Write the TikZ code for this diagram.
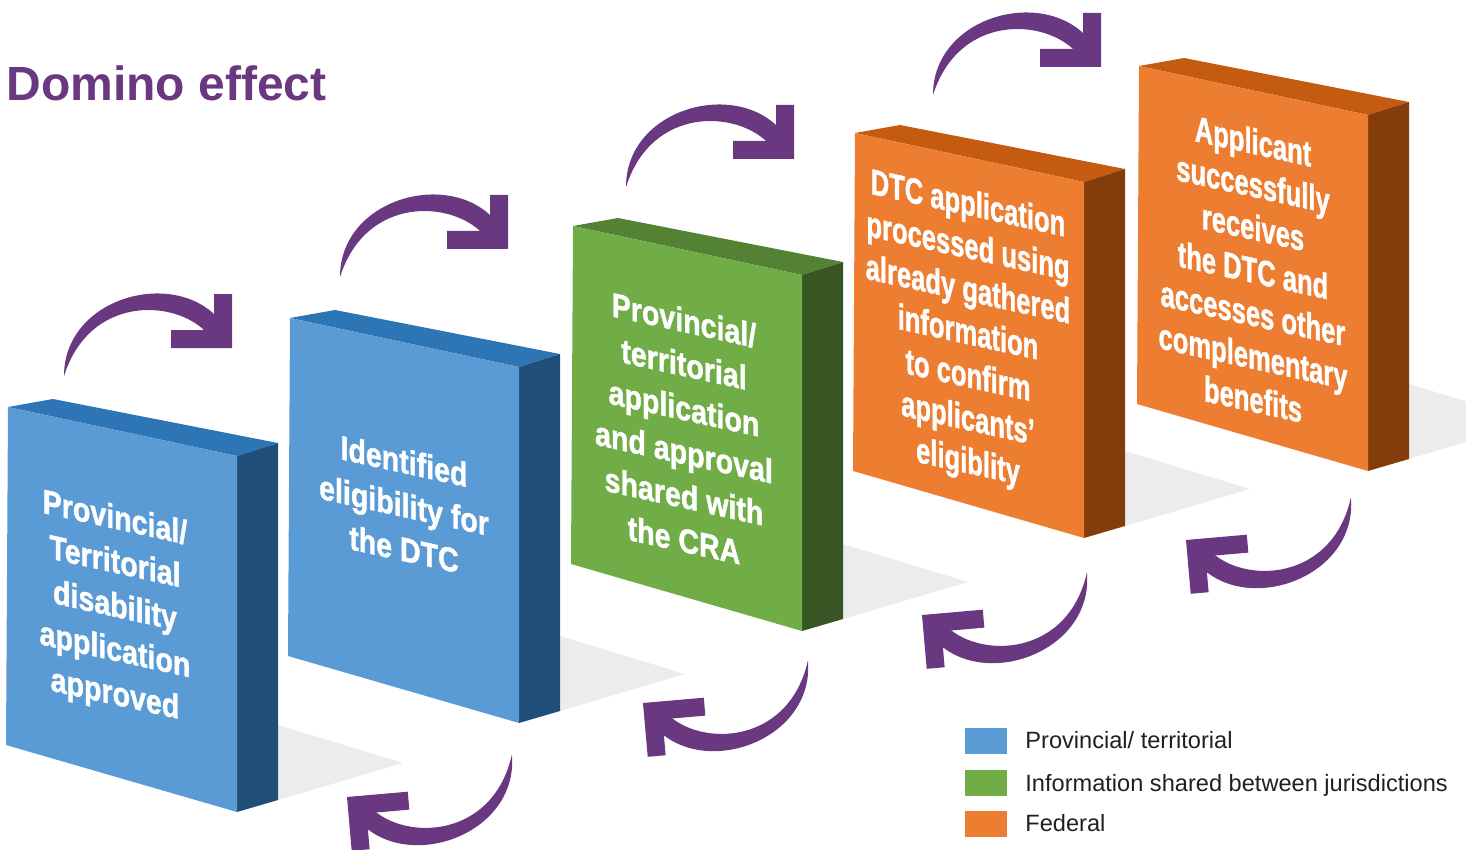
\documentclass[tikz,border=0pt]{standalone}
\usepackage{fontspec}
\setmainfont{Liberation Sans}
\newfontfamily\heavyfont{Liberation Sans}[BoldFeatures={FakeBold=1.4}]

\definecolor{bluefront}{HTML}{5B9BD5}
\definecolor{bluetop}{HTML}{2E75B6}
\definecolor{blueside}{HTML}{1F4E79}
\definecolor{greenfront}{HTML}{70AD47}
\definecolor{greentop}{HTML}{548235}
\definecolor{greenside}{HTML}{375623}
\definecolor{orangefront}{HTML}{ED7D31}
\definecolor{orangetop}{HTML}{C55A11}
\definecolor{orangeside}{HTML}{843C0C}
\definecolor{curlpurple}{HTML}{6A3880}
\definecolor{floorgray}{HTML}{ECECEC}
\definecolor{legendtext}{HTML}{231F20}

% one domino: #1 shift, #2 front, #3 top, #4 side colour
\newcommand\dominoblock[4]{%
  \begin{scope}[shift={#1}]
    \fill[#3] (8,407) -- (53,399) -- (278,443) -- (237,456) -- cycle;
    \fill[#4] (237,456) -- (278,443) -- (278,800) -- (237,812) -- cycle;
    \fill[#2] (8,407) -- (237,456) -- (237,812) -- (6,745) -- cycle;
  \end{scope}}
% floor shadow behind a domino
\newcommand\dominoshadow[1]{%
  \fill[floorgray, shift={#1}] (278,725) -- (403,763) -- (278,800) -- cycle;}

\tikzset{
  curl/.pic={
    \fill[curlpurple] (0,0) -- (0,-54) -- (-18,-54) -- (-18,-18) -- (-61,-18) -- (-61,0) -- cycle;
    \fill[curlpurple] (-168,28) .. controls (-168,-50) and (-60,-80) .. (-14,-30)
      -- (-8,-8) -- (-24,-14) .. controls (-55,-49) and (-142,-54) .. (-168,28) -- cycle;
  },
  blocktext/.style={text=white, align=center, inner sep=0pt,
    font=\heavyfont\bfseries\fontsize{17}{22}\selectfont},
  fedtext/.style={text=white, align=center, inner sep=0pt,
    font=\heavyfont\bfseries\fontsize{18}{21.5}\selectfont},
  swatch/.style={minimum width=21pt, minimum height=13pt, inner sep=0pt, anchor=north west},
  legendlabel/.style={anchor=base west, inner sep=0pt, text=legendtext,
    font=\fontsize{11.8}{14}\selectfont}
}

\begin{document}
\begin{tikzpicture}[x=0.5pt,y=-0.5pt]
  \useasboundingbox (0,0) rectangle (1466,850);
  \clip (0,0) rectangle (1466,850);

  % title
  \node[anchor=base west, inner sep=0pt, text=curlpurple,
        font=\bfseries\fontsize{24}{28}\selectfont] (title) at (6,101) {Domino effect};

  % floor shadows
  \dominoshadow{(0,0)}
  \dominoshadow{(282,-89)}
  \dominoshadow{(565,-181)}
  \dominoshadow{(847,-274)}
  \dominoshadow{(1131,-341)}

  % dominoes
  \dominoblock{(0,0)}{bluefront}{bluetop}{blueside}
  \dominoblock{(282,-89)}{bluefront}{bluetop}{blueside}
  \dominoblock{(565,-181)}{greenfront}{greentop}{greenside}
  \dominoblock{(847,-274)}{orangefront}{orangetop}{orangeside}
  \dominoblock{(1131,-341)}{orangefront}{orangetop}{orangeside}

  % texts on the front faces
  \node[blocktext, yslant=-0.22, xscale=0.84] (t1) at (115,608)
    {Provincial/\\Territorial\\disability\\application\\approved};
  \node[blocktext, yslant=-0.22, xscale=0.84] (t2) at (404,505)
    {Identified\\eligibility for\\the DTC};
  \node[blocktext, yslant=-0.22, xscale=0.84] (t3) at (684,430)
    {Provincial/\\territorial\\application\\and approval\\shared with\\the CRA};
  \node[fedtext, yslant=-0.22, xscale=0.71] (t4) at (968,335)
    {DTC application\\processed using\\already gathered\\information\\to confirm\\applicants’\\eligiblity};
  \node[fedtext, yslant=-0.22, xscale=0.71] (t5) at (1253,270)
    {Applicant\\successfully\\receives\\the DTC and\\accesses other\\complementary\\benefits};

  % curled arrows above and below
  \coordinate (a1) at (232,348);
  \coordinate (a2) at (508,249);
  \coordinate (a3) at (794,159);
  \coordinate (a4) at (1101,67);
  \coordinate (b1) at (347,797);
  \coordinate (b2) at (643,703);
  \coordinate (b3) at (922,615);
  \coordinate (b4) at (1186,540);
  \foreach \c in {a1,a2,a3,a4} { \pic at (\c) {curl}; }
  \foreach \c in {b1,b2,b3,b4} { \pic[rotate=-175] at (\c) {curl}; }

  % legend
  \node[swatch, fill=bluefront] (k1) at (965,728) {};
  \node[swatch, fill=greenfront] (k2) at (965,770) {};
  \node[swatch, fill=orangefront] (k3) at (965,811) {};
  \node[legendlabel] (l1) at (1025,748) {Provincial/ territorial};
  \node[legendlabel] (l2) at (1025,791) {Information shared between jurisdictions};
  \node[legendlabel] (l3) at (1025,831) {Federal};
\end{tikzpicture}
\end{document}
